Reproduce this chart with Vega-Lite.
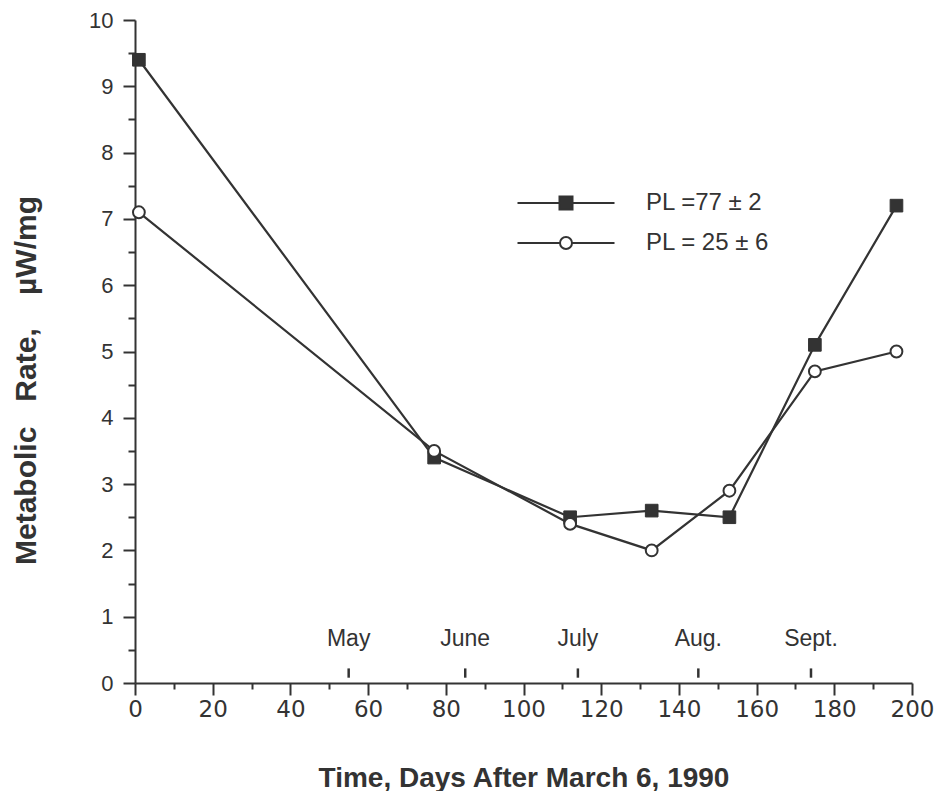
{
  "$schema": "https://vega.github.io/schema/vega-lite/v6.json",
  "width": 777,
  "height": 663,
  "autosize": {"type": "none"},
  "padding": {"left": 135, "top": 20, "right": 26, "bottom": 108},
  "background": "#ffffff",
  "config": {
    "view": {"stroke": null},
    "axis": {"grid": false, "domainColor": "#333", "tickColor": "#333", "labelColor": "#333", "titleColor": "#333", "domainWidth": 2, "tickWidth": 2},
    "legend": {
      "title": null, "orient": "none", "legendX": 419, "legendY": 171,
      "padding": 0, "symbolSize": 400, "symbolStrokeWidth": 2, "symbolOpacity": 1,
      "rowPadding": 16, "labelOffset": 68,
      "labelFont": "Liberation Sans", "labelFontSize": 24, "labelColor": "#333"
    }
  },
  "datasets": {
    "rates": [
      {"day": 1, "rate": 9.4, "series": "PL =77 ± 2"},
      {"day": 77, "rate": 3.4, "series": "PL =77 ± 2"},
      {"day": 112, "rate": 2.5, "series": "PL =77 ± 2"},
      {"day": 133, "rate": 2.6, "series": "PL =77 ± 2"},
      {"day": 153, "rate": 2.5, "series": "PL =77 ± 2"},
      {"day": 175, "rate": 5.1, "series": "PL =77 ± 2"},
      {"day": 196, "rate": 7.2, "series": "PL =77 ± 2"},
      {"day": 1, "rate": 7.1, "series": "PL = 25 ± 6"},
      {"day": 77, "rate": 3.5, "series": "PL = 25 ± 6"},
      {"day": 112, "rate": 2.4, "series": "PL = 25 ± 6"},
      {"day": 133, "rate": 2.0, "series": "PL = 25 ± 6"},
      {"day": 153, "rate": 2.9, "series": "PL = 25 ± 6"},
      {"day": 175, "rate": 4.7, "series": "PL = 25 ± 6"},
      {"day": 196, "rate": 5.0, "series": "PL = 25 ± 6"}
    ],
    "months": [
      {"month": "May", "day": 55},
      {"month": "June", "day": 85},
      {"month": "July", "day": 114},
      {"month": "Aug.", "day": 145},
      {"month": "Sept.", "day": 174}
    ]
  },
  "resolve": {"scale": {"x": "independent", "y": "independent"}, "axis": {"x": "independent", "y": "independent"}},
  "layer": [
    {
      "data": {"name": "rates"},
      "mark": {"type": "line", "color": "#333", "strokeWidth": 2.2},
      "encoding": {
        "x": {
          "field": "day", "type": "quantitative",
          "scale": {"domain": [0, 200], "nice": false, "zero": false},
          "axis": {
            "orient": "bottom",
            "title": "Time, Days After March 6, 1990",
            "values": [0, 20, 40, 60, 80, 100, 120, 140, 160, 180, 200],
            "format": "d",
            "tickSize": 12,
            "labelFont": "DejaVu Sans", "labelFontSize": 23, "labelPadding": 3,
            "labelFlush": false, "labelOverlap": false,
            "titleFont": "Liberation Sans", "titleFontSize": 28, "titleFontWeight": "bold",
            "titleBaseline": "alphabetic", "titleY": 103
          }
        },
        "y": {
          "field": "rate", "type": "quantitative",
          "scale": {"domain": [0, 10], "nice": false, "zero": false},
          "axis": {
            "orient": "left",
            "title": "Metabolic\u00a0\u00a0\u00a0Rate,\u00a0\u00a0\u00a0\u00a0µW/mg",
            "values": [0, 1, 2, 3, 4, 5, 6, 7, 8, 9, 10],
            "format": "d",
            "tickSize": 12,
            "labelFont": "Liberation Sans", "labelFontSize": 22, "labelPadding": 10,
            "labelFlush": false, "labelOverlap": false,
            "titleFont": "Liberation Sans", "titleFontSize": 30, "titleFontWeight": "bold",
            "titleX": -94, "titleY": 360
          }
        },
        "detail": {"field": "series"}
      }
    },
    {
      "data": {"name": "rates"},
      "transform": [{"filter": "datum.day < 0"}],
      "mark": {"type": "point", "strokeWidth": 2, "opacity": 1},
      "encoding": {
        "x": {"field": "day", "type": "quantitative", "scale": {"domain": [0, 200], "nice": false, "zero": false}, "axis": null},
        "y": {"field": "rate", "type": "quantitative", "scale": {"domain": [0, 10], "nice": false, "zero": false}, "axis": null},
        "shape": {
          "field": "series", "type": "nominal",
          "scale": {
            "domain": ["PL =77 ± 2", "PL = 25 ± 6"],
            "range": ["M-4.85,0H4.85M-0.65,-0.65H0.65V0.65H-0.65Z", "M-4.85,0H-0.6M0.6,0H4.85M-0.6,0A0.6,0.6 0 1,0 0.6,0A0.6,0.6 0 1,0 -0.6,0Z"]
          }
        },
        "fill": {
          "field": "series", "type": "nominal",
          "scale": {"domain": ["PL =77 ± 2", "PL = 25 ± 6"], "range": ["#333333", "#ffffff"]}
        },
        "stroke": {
          "field": "series", "type": "nominal",
          "scale": {"domain": ["PL =77 ± 2", "PL = 25 ± 6"], "range": ["#333333", "#333333"]}
        }
      }
    },
    {
      "data": {"name": "rates"},
      "transform": [{"filter": "datum.series === 'PL =77 ± 2'"}],
      "mark": {"type": "point", "shape": "square", "filled": true, "fill": "#333", "stroke": "#333", "strokeWidth": 1, "opacity": 1, "size": 160},
      "encoding": {
        "x": {"field": "day", "type": "quantitative", "scale": {"domain": [0, 200], "nice": false, "zero": false}, "axis": null},
        "y": {"field": "rate", "type": "quantitative", "scale": {"domain": [0, 10], "nice": false, "zero": false}, "axis": null}
      }
    },
    {
      "data": {"name": "rates"},
      "transform": [{"filter": "datum.series === 'PL = 25 ± 6'"}],
      "mark": {"type": "point", "shape": "circle", "fill": "#ffffff", "stroke": "#333", "strokeWidth": 2, "opacity": 1, "size": 140},
      "encoding": {
        "x": {"field": "day", "type": "quantitative", "scale": {"domain": [0, 200], "nice": false, "zero": false}, "axis": null},
        "y": {"field": "rate", "type": "quantitative", "scale": {"domain": [0, 10], "nice": false, "zero": false}, "axis": null}
      }
    },
    {
      "data": {"name": "months"},
      "mark": {"type": "rule", "color": "#333", "strokeWidth": 2.5},
      "encoding": {
        "x": {
          "field": "day", "type": "quantitative",
          "scale": {"domain": [0, 200], "nice": false, "zero": false},
          "axis": {
            "orient": "bottom", "title": null, "labels": false, "domain": false,
            "values": [10, 30, 50, 70, 90, 110, 130, 150, 170, 190], "tickSize": 6
          }
        },
        "y": {
          "datum": 0.08,
          "scale": {"domain": [0, 10], "nice": false, "zero": false},
          "axis": {
            "orient": "left", "title": null, "labels": false, "domain": false,
            "values": [0.5, 1.5, 2.5, 3.5, 4.5, 5.5, 6.5, 7.5, 8.5, 9.5], "tickSize": 7
          }
        },
        "y2": {"datum": 0.22}
      }
    },
    {
      "data": {"name": "months"},
      "mark": {"type": "text", "font": "Liberation Sans", "fontSize": 23, "color": "#333", "baseline": "middle"},
      "encoding": {
        "x": {"field": "day", "type": "quantitative", "scale": {"domain": [0, 200], "nice": false, "zero": false}, "axis": null},
        "y": {"datum": 0.66, "scale": {"domain": [0, 10], "nice": false, "zero": false}, "axis": null},
        "text": {"field": "month"}
      }
    }
  ]
}
